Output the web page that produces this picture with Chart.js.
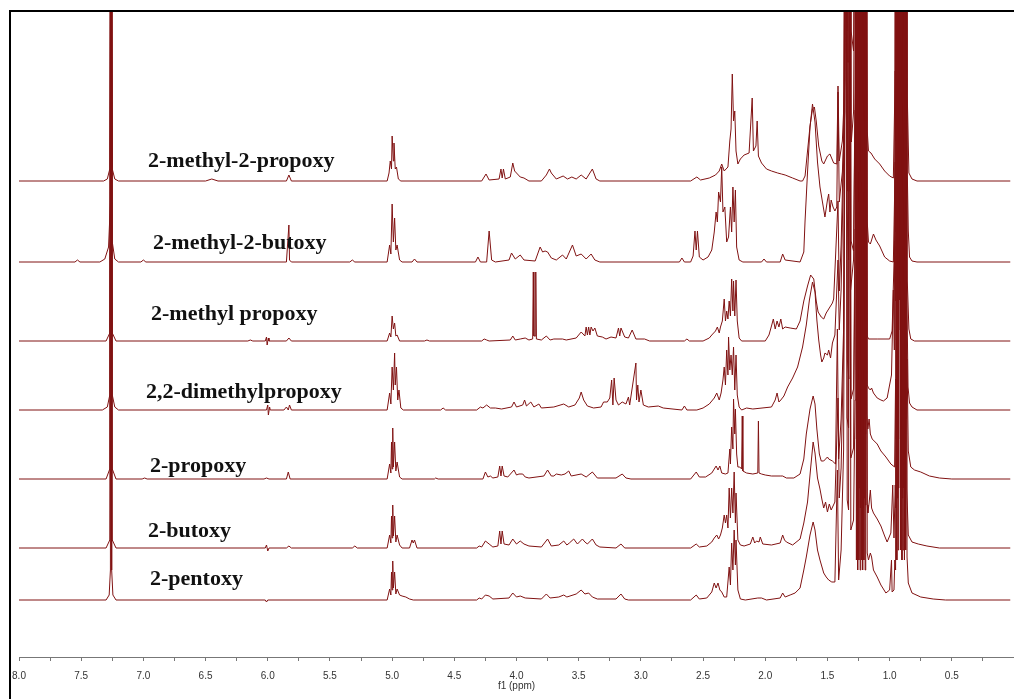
<!DOCTYPE html>
<html>
<head>
<meta charset="utf-8">
<script src="https://cdn.jsdelivr.net/npm/chart.js@4.4.1/dist/chart.umd.min.js"></script>
<style>
  html, body { margin: 0; padding: 0; background: #fff; }
  canvas { display: block; }
</style>
</head>
<body>
<canvas id="nmrChart" width="1014" height="699"></canvas>
<script>
// Sample names, top to bottom
const spectrumNames = [
    '2-methyl-2-propoxy',
    '2-methyl-2-butoxy',
    '2-methyl propoxy',
    '2,2-dimethylpropoxy',
    '2-propoxy',
    '2-butoxy',
    '2-pentoxy'
];

// Labelled ticks on the f1 axis (ppm)
const tickLabels = ['8.0', '7.5', '7.0', '6.5', '6.0', '5.5', '5.0', '4.5', '4.0', '3.5', '3.0', '2.5', '2.0', '1.5', '1.0', '0.5'];

// Each spectrum: [ppm, intensity above its own baseline]
const methylPropoxy2 = [
    [8.0, 0], [7.32, 0], [7.29, 2], [7.27, 12], [7.26, 800], [7.25, 12], [7.23, 2], [7.20, 0],
    [6.50, 0], [6.45, 2], [6.40, 0], [5.85, 0], [5.83, 6], [5.81, 0],
    [5.04, 0], [5.025, 8], [5.015, 20], [5.005, 12], [5.0, 45], [4.99, 20], [4.985, 38], [4.975, 12], [4.965, 14], [4.95, 2], [4.93, 0],
    [4.28, 0], [4.245, 7], [4.22, 1], [4.14, 2], [4.125, 12], [4.115, 3], [4.105, 12], [4.09, 2], [4.05, 4], [4.03, 18], [4.015, 10],
    [4.0, 8], [3.97, 4], [3.94, 3], [3.90, 0], [3.80, 0], [3.76, 6], [3.735, 12], [3.72, 8], [3.68, 2], [3.625, 5], [3.59, 2],
    [3.555, 4], [3.52, 2], [3.48, 6], [3.44, 2], [3.39, 12], [3.36, 2], [3.33, 0],
    [2.60, 0], [2.55, 4], [2.52, 1], [2.45, 3], [2.40, 6], [2.37, 10], [2.35, 17], [2.33, 10], [2.30, 14], [2.285, 40], [2.275, 52],
    [2.265, 107], [2.255, 60], [2.245, 70], [2.235, 30], [2.22, 17], [2.20, 22], [2.17, 26], [2.13, 28], [2.105, 83], [2.095, 30],
    [2.075, 35], [2.065, 60], [2.055, 25], [2.03, 18], [1.99, 12], [1.95, 10], [1.90, 8], [1.87, 7], [1.84, 6], [1.78, 3], [1.72, 0],
    [1.70, 0], [1.68, 5], [1.66, 30], [1.64, 55], [1.62, 72], [1.605, 74], [1.59, 60], [1.57, 35], [1.545, 20], [1.53, 17],
    [1.50, 25], [1.48, 27], [1.45, 18], [1.425, 17], [1.415, 95], [1.405, 20], [1.38, 40], [1.36, 100], [1.348, 800], [1.342, 150],
    [1.33, 200], [1.322, 800], [1.31, 150], [1.29, 130], [1.275, 400], [1.27, 800], [1.265, 80], [1.26, 800], [1.255, 70],
    [1.25, 800], [1.245, 90], [1.24, 800], [1.235, 60], [1.23, 800], [1.225, 80], [1.22, 800], [1.215, 60], [1.21, 800],
    [1.205, 70], [1.20, 800], [1.195, 60], [1.19, 800], [1.18, 50], [1.17, 30], [1.15, 28], [1.12, 22],
    [1.08, 17], [1.04, 10], [1.0, 5], [0.97, 3], [0.955, 110], [0.95, 40], [0.945, 800], [0.94, 60], [0.935, 800], [0.93, 50],
    [0.925, 800], [0.92, 200], [0.915, 800], [0.91, 100], [0.905, 800], [0.90, 80], [0.895, 800], [0.89, 60], [0.885, 800],
    [0.88, 90], [0.875, 800], [0.87, 70], [0.865, 800], [0.858, 85], [0.845, 8], [0.82, 2], [0.78, 0], [0.03, 0]
];

const methylButoxy2 = [
    [8.0, 0], [7.55, 0], [7.53, 2], [7.51, 0], [7.35, 0], [7.31, 3], [7.28, 15], [7.265, 60], [7.26, 800], [7.25, 20], [7.23, 3],
    [7.20, 0], [7.02, 0], [7.0, 2], [6.98, 0], [5.85, 0], [5.83, 37], [5.825, 2], [5.81, 0], [5.34, 0], [5.32, 2], [5.30, 0],
    [5.04, 0], [5.02, 17], [5.01, 8], [5.0, 58], [4.99, 20], [4.98, 44], [4.97, 12], [4.96, 17], [4.94, 2], [4.92, 0],
    [4.84, 0], [4.82, 3], [4.80, 0], [4.33, 0], [4.31, 5], [4.29, 0], [4.24, 0], [4.22, 31], [4.20, 2], [4.17, 0], [4.06, 2],
    [4.04, 9], [4.01, 3], [3.97, 7], [3.94, 2], [3.85, 1], [3.81, 15], [3.79, 10], [3.77, 11], [3.75, 10], [3.72, 4], [3.68, 2],
    [3.63, 7], [3.60, 3], [3.55, 17], [3.52, 6], [3.48, 8], [3.44, 3], [3.40, 8], [3.37, 2], [3.33, 0], [2.69, 0], [2.67, 4], [2.65, 0],
    [2.60, 0], [2.58, 6], [2.565, 31], [2.555, 12], [2.545, 31], [2.53, 5], [2.50, 2], [2.46, 5], [2.43, 12], [2.41, 30],
    [2.395, 50], [2.385, 40], [2.375, 70], [2.36, 60], [2.35, 95], [2.34, 50], [2.325, 55], [2.31, 20], [2.295, 25], [2.28, 55],
    [2.27, 30], [2.26, 75], [2.25, 40], [2.24, 72], [2.23, 15], [2.21, 2], [2.18, 0], [2.03, 0], [2.01, 3], [1.99, 0], [1.88, 0],
    [1.86, 8], [1.84, 2], [1.72, 0], [1.69, 10], [1.68, 41], [1.66, 90], [1.64, 135], [1.62, 158], [1.60, 140], [1.58, 100],
    [1.56, 75], [1.54, 60], [1.52, 45], [1.50, 62], [1.49, 68], [1.48, 50], [1.47, 62], [1.455, 55], [1.44, 51], [1.425, 55],
    [1.415, 170], [1.405, 60], [1.38, 90], [1.36, 150], [1.35, 800], [1.34, 200], [1.328, 200], [1.318, 800], [1.308, 120],
    [1.29, 150], [1.278, 400], [1.272, 800], [1.267, 70], [1.262, 800], [1.257, 60], [1.252, 800], [1.247, 90], [1.242, 800],
    [1.237, 70], [1.232, 800], [1.227, 80], [1.222, 800], [1.217, 60], [1.212, 800], [1.207, 70], [1.202, 800], [1.197, 60],
    [1.192, 800], [1.18, 40], [1.17, 20], [1.155, 18], [1.13, 28], [1.11, 22], [1.08, 16], [1.04, 5], [1.0, 1],
    [0.97, 0], [0.955, 100], [0.95, 30], [0.945, 800], [0.94, 50], [0.935, 800], [0.93, 60], [0.925, 800], [0.92, 250],
    [0.915, 800], [0.91, 80], [0.905, 800], [0.90, 60], [0.895, 800], [0.89, 70], [0.885, 800], [0.88, 50], [0.875, 800],
    [0.87, 60], [0.865, 800], [0.858, 90], [0.85, 31], [0.84, 5], [0.82, 1], [0.78, 0], [0.03, 0]
];

const methylPropoxy = [
    [8.0, 0], [7.30, 0], [7.27, 8], [7.26, 800], [7.25, 8], [7.22, 0], [6.16, 0], [6.14, 1], [6.12, 0], [6.02, 0], [6.01, 4],
    [6.005, -4], [5.995, 3], [5.99, 0], [5.85, 0], [5.83, 3], [5.81, 0],
    [5.04, 0], [5.02, 8], [5.01, 4], [5.0, 25], [4.99, 12], [4.98, 18], [4.97, 5], [4.96, 6], [4.94, 0], [4.74, 0], [4.72, 1],
    [4.70, 0], [4.28, 0], [4.26, 2], [4.24, 1], [4.22, 0], [4.05, 1], [4.03, 5], [4.01, 1], [3.97, 2], [3.93, 3], [3.90, 1],
    [3.87, 2], [3.865, 69], [3.86, 5], [3.85, 5], [3.845, 69], [3.84, 2], [3.80, 1], [3.76, 5], [3.73, 1], [3.70, 2], [3.63, 2],
    [3.60, 1], [3.52, 3], [3.48, 9], [3.45, 5], [3.44, 14], [3.43, 6], [3.42, 14], [3.41, 6], [3.40, 14], [3.385, 10], [3.37, 13],
    [3.35, 5], [3.31, 4], [3.28, 2], [3.24, 4], [3.20, 3], [3.18, 13], [3.17, 5], [3.16, 13], [3.13, 4], [3.10, 3], [3.07, 11],
    [3.04, 2], [2.97, 2], [2.93, 0], [2.65, 0], [2.63, 2], [2.61, 0],
    [2.50, 0], [2.45, 3], [2.43, 6], [2.40, 10], [2.385, 14], [2.37, 8], [2.36, 14], [2.345, 20], [2.33, 42], [2.32, 20],
    [2.31, 30], [2.30, 22], [2.29, 40], [2.28, 25], [2.27, 62], [2.26, 30], [2.255, 60], [2.245, 25], [2.235, 61], [2.225, 20],
    [2.21, 3], [2.19, 0], [2.0, 0], [1.97, 6], [1.95, 15], [1.935, 22], [1.92, 12], [1.905, 20], [1.89, 14], [1.875, 22],
    [1.86, 12], [1.84, 14], [1.80, 13], [1.75, 12], [1.72, 20], [1.69, 40], [1.66, 55], [1.635, 66], [1.61, 62], [1.59, 40],
    [1.575, 29], [1.55, 24], [1.53, 22], [1.51, 28], [1.48, 34], [1.46, 38], [1.45, 42], [1.415, 140], [1.405, 50], [1.39, 96],
    [1.37, 200], [1.346, 800], [1.338, 150], [1.326, 150], [1.32, 800], [1.31, 100], [1.29, 90], [1.278, 250], [1.27, 800],
    [1.265, 50], [1.26, 800], [1.255, 40], [1.25, 800], [1.245, 60], [1.24, 800], [1.235, 40], [1.23, 800], [1.225, 50],
    [1.22, 800], [1.215, 40], [1.21, 800], [1.205, 30], [1.20, 800], [1.195, 20], [1.19, 800], [1.18, 5],
    [1.17, 2], [1.10, 2], [1.0, 2], [0.98, 10], [0.96, 100], [0.952, 40], [0.947, 800], [0.942, 40], [0.937, 800], [0.932, 50],
    [0.927, 800], [0.922, 300], [0.917, 800], [0.912, 60], [0.907, 800], [0.902, 50], [0.897, 800], [0.892, 40], [0.887, 800],
    [0.882, 60], [0.877, 800], [0.872, 40], [0.867, 800], [0.858, 60], [0.845, 12], [0.83, 2], [0.80, 0], [0.03, 0]
];

const dimethylPropoxy = [
    [8.0, 0], [7.33, 0], [7.29, 3], [7.27, 15], [7.26, 800], [7.25, 15], [7.23, 3], [7.20, 0], [6.01, 0], [6.0, 5], [5.995, -5],
    [5.985, 3], [5.98, 0], [5.87, 0], [5.85, 3], [5.835, 0], [5.825, 5], [5.81, 0],
    [5.04, 0], [5.02, 17], [5.01, 6], [5.0, 43], [4.99, 20], [4.98, 57], [4.975, 25], [4.965, 43], [4.955, 10], [4.945, 20],
    [4.93, 2], [4.91, 0], [4.61, 0], [4.59, 2], [4.57, 0], [4.32, 0], [4.29, 3], [4.27, 2], [4.24, 5], [4.21, 2], [4.17, 2],
    [4.12, 1], [4.04, 3], [4.02, 8], [4.0, 3], [3.95, 5], [3.935, 10], [3.92, 4], [3.885, 8], [3.86, 3], [3.82, 6], [3.80, 2],
    [3.70, 3], [3.62, 6], [3.58, 3], [3.53, 5], [3.495, 12], [3.48, 18], [3.46, 10], [3.43, 4], [3.38, 2], [3.32, 3], [3.30, 8],
    [3.27, 8], [3.25, 12], [3.235, 30], [3.225, 5], [3.215, 32], [3.20, 10], [3.18, 5], [3.15, 8], [3.12, 6], [3.10, 13],
    [3.09, 5], [3.04, 47], [3.035, 10], [3.025, 25], [3.015, 8], [3.0, 20], [2.98, 5], [2.94, 3], [2.86, 4], [2.82, 2],
    [2.67, 0], [2.65, 4], [2.63, 0],
    [2.55, 0], [2.50, 2], [2.45, 6], [2.41, 12], [2.39, 17], [2.37, 10], [2.355, 17], [2.34, 30], [2.33, 43], [2.32, 25],
    [2.31, 60], [2.30, 35], [2.295, 73], [2.285, 40], [2.275, 55], [2.265, 35], [2.255, 63], [2.245, 20], [2.235, 55],
    [2.225, 15], [2.21, 3], [2.19, 0], [2.15, 2], [2.10, 1], [1.95, 3], [1.92, 10], [1.905, 17], [1.89, 8], [1.875, 10],
    [1.85, 14], [1.82, 23], [1.78, 32], [1.74, 43], [1.70, 63], [1.67, 85], [1.645, 110], [1.62, 128], [1.60, 118], [1.585, 90],
    [1.57, 70], [1.555, 55], [1.545, 48], [1.53, 52], [1.52, 57], [1.50, 55], [1.49, 60], [1.475, 52], [1.46, 67], [1.44, 75],
    [1.415, 150], [1.405, 80], [1.39, 120], [1.37, 250], [1.352, 800], [1.342, 200], [1.33, 150], [1.324, 800], [1.314, 120],
    [1.29, 150], [1.278, 300], [1.272, 800], [1.267, 40], [1.262, 800], [1.257, 30], [1.252, 800], [1.247, 50], [1.242, 800],
    [1.237, 30], [1.232, 800], [1.227, 40], [1.222, 800], [1.217, 30], [1.212, 800], [1.207, 40], [1.202, 800], [1.197, 30],
    [1.192, 800], [1.18, 25], [1.17, 22], [1.155, 20], [1.145, 22], [1.13, 17], [1.10, 12], [1.07, 10], [1.05, 9],
    [1.02, 12], [0.985, 35], [0.97, 120], [0.962, 60], [0.952, 800], [0.947, 70], [0.942, 800], [0.937, 60], [0.932, 800],
    [0.926, 300], [0.92, 800], [0.915, 80], [0.91, 800], [0.905, 60], [0.90, 800], [0.895, 70], [0.89, 800], [0.885, 50],
    [0.88, 800], [0.875, 60], [0.87, 800], [0.862, 120], [0.852, 23], [0.84, 7], [0.82, 3], [0.78, 0], [0.03, 0]
];

const propoxy2 = [
    [8.0, 0], [7.30, 0], [7.27, 10], [7.26, 800], [7.25, 10], [7.22, 0], [7.01, 0], [6.99, 1], [6.97, 0], [6.03, 0], [6.01, 1],
    [5.99, 0], [5.85, 0], [5.835, 7], [5.82, 0],
    [5.04, 0], [5.02, 15], [5.01, 6], [5.005, 37], [5.0, 10], [4.995, 51], [4.99, 12], [4.98, 37], [4.97, 8], [4.96, 17],
    [4.94, 2], [4.92, 0], [4.66, 0], [4.65, 1], [4.63, 0], [4.27, 0], [4.25, 7], [4.23, 2], [4.21, 3], [4.19, 1], [4.15, 2],
    [4.135, 13], [4.125, 3], [4.115, 13], [4.10, 3], [4.07, 2], [4.02, 9], [4.0, 4], [3.98, 5], [3.95, 5], [3.93, 2], [3.90, 1],
    [3.78, 3], [3.75, 9], [3.72, 3], [3.70, 3], [3.68, 5], [3.64, 4], [3.61, 5], [3.58, 8], [3.56, 3], [3.48, 5], [3.44, 2],
    [3.39, 7], [3.35, 1], [3.20, 1], [3.15, 5], [3.12, 1], [3.08, 0],
    [2.60, 0], [2.555, 7], [2.53, 2], [2.48, 2], [2.43, 6], [2.41, 10], [2.395, 13], [2.38, 9], [2.365, 13], [2.35, 6],
    [2.32, 5], [2.30, 6], [2.285, 30], [2.28, 15], [2.27, 52], [2.26, 30], [2.255, 80], [2.245, 45], [2.24, 70], [2.23, 25],
    [2.22, 12], [2.205, 12], [2.19, 10], [2.185, 63], [2.18, 8], [2.15, 6], [2.10, 5], [2.06, 6], [2.055, 58], [2.05, 6],
    [2.03, 5], [2.0, 4], [1.95, 3], [1.88, 3], [1.86, 3], [1.83, 1], [1.77, 1], [1.72, 5], [1.69, 20], [1.67, 45], [1.64, 70],
    [1.615, 83], [1.60, 75], [1.585, 50], [1.565, 25], [1.55, 18], [1.53, 18], [1.50, 22], [1.49, 20], [1.46, 18], [1.435, 15],
    [1.42, 150], [1.41, 20], [1.39, 60], [1.37, 150], [1.348, 800], [1.34, 120], [1.328, 100], [1.321, 800], [1.31, 80],
    [1.29, 90], [1.278, 250], [1.272, 800], [1.267, 40], [1.262, 800], [1.257, 50], [1.252, 800], [1.247, 40], [1.242, 800],
    [1.237, 60], [1.232, 800], [1.227, 40], [1.222, 800], [1.217, 50], [1.212, 800], [1.207, 60], [1.202, 800], [1.197, 45],
    [1.192, 800], [1.185, 65], [1.175, 50], [1.165, 60], [1.155, 45], [1.14, 40], [1.10, 35],
    [1.07, 28], [1.03, 22], [0.99, 15], [0.96, 12], [0.952, 100], [0.948, 40], [0.943, 800], [0.938, 50], [0.933, 800],
    [0.928, 40], [0.923, 800], [0.917, 300], [0.912, 800], [0.907, 60], [0.902, 800], [0.897, 50], [0.892, 800], [0.887, 60],
    [0.882, 800], [0.877, 40], [0.872, 800], [0.865, 60], [0.86, 120], [0.85, 28], [0.83, 12], [0.80, 9], [0.75, 7],
    [0.68, 3], [0.60, 1], [0.50, 0], [0.03, 0]
];

const butoxy2 = [
    [8.0, 0], [7.30, 0], [7.27, 8], [7.26, 800], [7.25, 8], [7.22, 0], [6.02, 0], [6.01, 3], [6.0, -3], [5.99, 0], [5.85, 0],
    [5.83, 2], [5.81, 0], [5.32, 0], [5.30, 2], [5.28, 0],
    [5.04, 0], [5.02, 13], [5.01, 5], [5.005, 32], [5.0, 10], [4.995, 43], [4.99, 12], [4.98, 32], [4.97, 6], [4.96, 13],
    [4.94, 3], [4.92, 0], [4.86, 0], [4.84, 8], [4.83, 5], [4.82, 8], [4.80, 0], [4.32, 0], [4.30, 2], [4.28, 1], [4.25, 7],
    [4.22, 4], [4.19, 1], [4.15, 2], [4.135, 17], [4.125, 4], [4.115, 17], [4.10, 4], [4.06, 3], [4.03, 9], [4.0, 4], [3.97, 7],
    [3.94, 4], [3.90, 2], [3.80, 1], [3.75, 9], [3.72, 2], [3.66, 3], [3.62, 7], [3.595, 3], [3.575, 5], [3.54, 9], [3.51, 4],
    [3.47, 9], [3.45, 6], [3.43, 4], [3.39, 9], [3.36, 3], [3.33, 1], [3.20, 0], [3.16, 4], [3.13, 0],
    [2.60, 0], [2.555, 4], [2.53, 1], [2.47, 2], [2.43, 6], [2.41, 10], [2.39, 13], [2.375, 9], [2.36, 13], [2.345, 20],
    [2.33, 33], [2.32, 25], [2.31, 33], [2.30, 20], [2.29, 60], [2.28, 30], [2.27, 60], [2.26, 35], [2.25, 76], [2.24, 25],
    [2.235, 55], [2.22, 8], [2.20, 3], [2.17, 2], [2.12, 4], [2.10, 11], [2.085, 5], [2.07, 7], [2.05, 6], [2.04, 11], [2.02, 4],
    [1.95, 3], [1.88, 5], [1.86, 13], [1.845, 8], [1.83, 6], [1.78, 3], [1.72, 9], [1.69, 25], [1.66, 46], [1.635, 80],
    [1.615, 106], [1.60, 95], [1.58, 70], [1.56, 59], [1.545, 49], [1.53, 40], [1.515, 46], [1.50, 36], [1.485, 44], [1.47, 38],
    [1.455, 42], [1.44, 46], [1.415, 150], [1.405, 50], [1.39, 80], [1.37, 200], [1.35, 800], [1.342, 130], [1.33, 120],
    [1.323, 800], [1.312, 90], [1.29, 100], [1.278, 300], [1.27, 800], [1.265, 50], [1.26, 800], [1.255, 40], [1.25, 800],
    [1.245, 60], [1.24, 800], [1.235, 40], [1.23, 800], [1.225, 50], [1.22, 800], [1.215, 40], [1.21, 800], [1.205, 50],
    [1.20, 800], [1.195, 43], [1.19, 800], [1.18, 43], [1.175, 35], [1.165, 45], [1.155, 58], [1.145, 40],
    [1.13, 35], [1.10, 29], [1.07, 22], [1.04, 12], [1.02, 6], [0.99, 15], [0.985, 30], [0.975, 63], [0.965, 10], [0.955, 63],
    [0.95, 40], [0.945, 800], [0.94, 50], [0.935, 800], [0.93, 60], [0.925, 800], [0.919, 300], [0.914, 800], [0.909, 60],
    [0.904, 800], [0.899, 50], [0.894, 800], [0.889, 60], [0.884, 800], [0.879, 40], [0.874, 800], [0.862, 59], [0.85, 13],
    [0.82, 6], [0.77, 4], [0.70, 2], [0.60, 0], [0.03, 0]
];

const pentoxy2 = [
    [8.0, 0], [7.30, 0], [7.275, 5], [7.265, 30], [7.26, 800], [7.255, 30], [7.245, 5], [7.22, 0], [6.02, 0], [6.01, -2],
    [6.0, 0],
    [5.04, 0], [5.02, 11], [5.01, 5], [5.005, 28], [5.0, 10], [4.995, 39], [4.99, 12], [4.98, 28], [4.97, 6], [4.96, 11],
    [4.94, 5], [4.92, 4], [4.89, 3], [4.86, 1], [4.83, 0], [4.32, 0], [4.30, 2], [4.28, 1], [4.25, 5], [4.22, 4], [4.19, 1],
    [4.06, 2], [4.03, 7], [4.0, 3], [3.97, 4], [3.93, 2], [3.80, 1], [3.76, 6], [3.73, 2], [3.66, 3], [3.62, 5], [3.595, 3],
    [3.57, 4], [3.52, 6], [3.48, 10], [3.45, 6], [3.42, 7], [3.39, 3], [3.35, 1], [3.20, 1], [3.16, 6], [3.13, 1], [3.10, 0],
    [2.60, 0], [2.555, 5], [2.53, 1], [2.47, 2], [2.43, 8], [2.41, 17], [2.395, 12], [2.38, 17], [2.365, 10], [2.35, 8],
    [2.33, 3], [2.31, 3], [2.29, 33], [2.28, 15], [2.27, 57], [2.26, 30], [2.25, 70], [2.24, 35], [2.235, 60], [2.22, 10],
    [2.20, 1], [2.16, 0], [2.06, 2], [2.03, 2], [1.99, 0], [1.88, 2], [1.86, 7], [1.84, 3], [1.80, 5], [1.76, 7], [1.72, 12],
    [1.69, 30], [1.67, 43], [1.64, 65], [1.615, 78], [1.60, 70], [1.58, 50], [1.56, 40], [1.53, 27], [1.51, 23], [1.49, 20],
    [1.465, 18], [1.44, 18], [1.42, 130], [1.41, 20], [1.39, 50], [1.37, 150], [1.349, 800], [1.341, 100], [1.33, 90],
    [1.322, 800], [1.312, 70], [1.29, 80], [1.278, 200], [1.272, 800], [1.267, 40], [1.262, 800], [1.257, 30], [1.252, 800],
    [1.247, 40], [1.242, 800], [1.237, 30], [1.232, 800], [1.227, 40], [1.222, 800], [1.217, 30], [1.212, 800], [1.207, 40],
    [1.202, 800], [1.197, 30], [1.192, 800], [1.18, 47], [1.17, 40], [1.155, 47], [1.145, 43],
    [1.13, 30], [1.10, 23], [1.07, 15], [1.03, 7], [1.0, 10], [0.985, 40], [0.98, 8], [0.965, 10], [0.958, 40], [0.952, 30],
    [0.947, 800], [0.942, 40], [0.937, 800], [0.932, 50], [0.927, 800], [0.921, 300], [0.916, 800], [0.911, 50], [0.906, 800],
    [0.901, 40], [0.896, 800], [0.891, 50], [0.886, 800], [0.881, 40], [0.876, 800], [0.871, 50], [0.866, 800], [0.86, 43],
    [0.85, 17], [0.82, 7], [0.75, 3], [0.65, 1], [0.55, 0], [0.03, 0]
];

const spectra = [methylPropoxy2, methylButoxy2, methylPropoxy, dimethylPropoxy, propoxy2, butoxy2, pentoxy2];

// Vertical stacking of the traces (y units = pixels above the axis)
const stackOffsets = [476, 395, 316, 247, 178, 109, 57];
const labelSpots = [[148, 161], [153, 243], [151, 314], [146, 392], [150, 466], [148, 531], [150, 579]];
const traceColor = 'rgb(128, 18, 18)';

/**
 * Frame like the exported figure: left and top black rules
 */
const framePlugin = {
    id: 'frame',
    afterDraw(chart) {
        const ctx = chart.ctx;
        ctx.save();
        ctx.strokeStyle = '#000';
        ctx.lineWidth = 2;
        ctx.beginPath();
        ctx.moveTo(10, chart.height);
        ctx.lineTo(10, 11);
        ctx.lineTo(chart.width, 11);
        ctx.stroke();

        // axis title sits tight under the tick labels
        const xs = chart.scales.x;
        ctx.fillStyle = '#333';
        ctx.font = '10px "Liberation Sans", sans-serif';
        ctx.textAlign = 'center';
        ctx.textBaseline = 'middle';
        ctx.fillText('f1 (ppm)', (xs.left + xs.right) / 2, 686);
        ctx.restore();
    }
};

/**
 * Sample names next to each trace
 */
const namesPlugin = {
    id: 'names',
    afterDatasetsDraw(chart) {
        const ctx = chart.ctx;
        ctx.save();
        ctx.fillStyle = '#111';
        ctx.font = 'bold 22px "Liberation Serif", serif';
        ctx.textAlign = 'left';
        ctx.textBaseline = 'middle';
        spectrumNames.forEach((name, i) => {
            ctx.fillText(name, labelSpots[i][0], labelSpots[i][1]);
        });
        ctx.restore();
    }
};

function buildDatasets() {
    return spectra.map((points, i) => ({
        label: spectrumNames[i],
        data: points.map(p => ({ x: p[0], y: stackOffsets[i] + p[1] })),
        borderColor: traceColor,
        borderWidth: 1,
        pointRadius: 0,
        tension: 0,
        fill: false
    }));
}

document.addEventListener('DOMContentLoaded', function() {
    const ctx = document.getElementById('nmrChart').getContext('2d');
    new Chart(ctx, {
        type: 'line',
        data: { datasets: buildDatasets() },
        options: {
            responsive: false,
            animation: false,
            events: [],
            layout: { padding: { left: 19, top: 11, right: 0, bottom: 8 } },
            plugins: {
                legend: { display: false },
                tooltip: { enabled: false }
            },
            scales: {
                x: {
                    type: 'linear',
                    reverse: true,
                    min: 0,
                    max: 8,
                    afterFit: function(scale) {
                        // no extra room for edge labels; axis runs to the canvas edge
                        scale.paddingLeft = 0;
                        scale.paddingRight = 0;
                    },
                    border: { display: true, color: '#777', width: 1 },
                    grid: { drawOnChartArea: false, drawTicks: true, tickLength: 4, color: '#777' },
                    ticks: {
                        stepSize: 0.25,
                        autoSkip: false,
                        maxRotation: 0,
                        padding: 9,
                        color: '#333',
                        font: { family: '"Liberation Sans", sans-serif', size: 10 },
                        callback: function(value) {
                            const text = Number(value).toFixed(1);
                            return tickLabels.includes(text) && Math.abs(value * 2 - Math.round(value * 2)) < 1e-6 ? text : '';
                        }
                    }
                },
                y: {
                    display: false,
                    min: 0,
                    max: 646
                }
            }
        },
        plugins: [framePlugin, namesPlugin]
    });
});
</script>
</body>
</html>
